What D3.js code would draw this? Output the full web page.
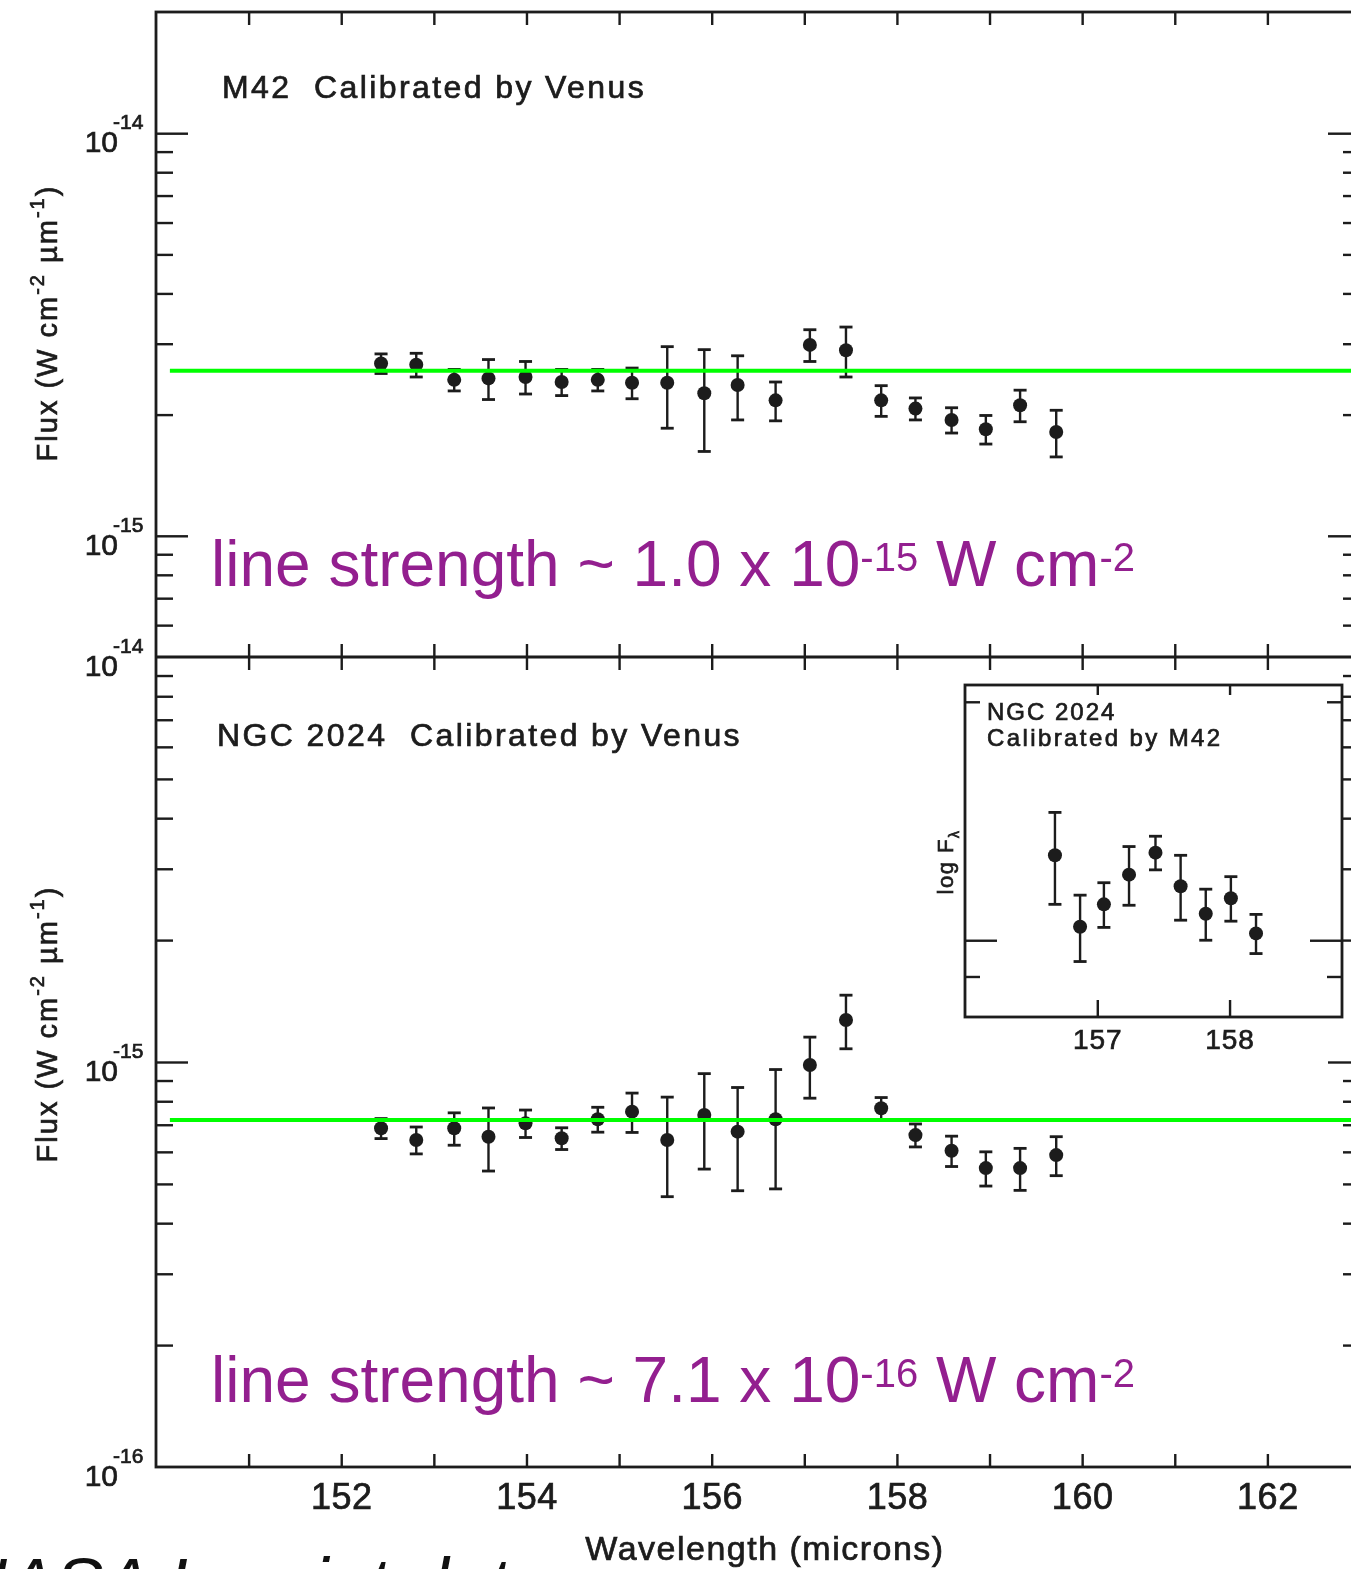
<!DOCTYPE html>
<html>
<head>
<meta charset="utf-8">
<script src="https://cdn.jsdelivr.net/npm/d3@7"></script>
<style>
  body { margin: 0; background: #fff; }
  svg { display: block; }
</style>
</head>
<body>
<script>
// ---- Data -------------------------------------------------------------
// Wavelength grid (microns) of the Venus-calibrated spectra
const wavelengths = [152.43, 152.81, 153.22, 153.59, 153.99, 154.38, 154.77, 155.14, 155.52, 155.92,
                     156.28, 156.69, 157.06, 157.45, 157.83, 158.20, 158.59, 158.96, 159.33, 159.72];

// M42, flux in W cm^-2 um^-1
const m42Flux = [2.68e-15, 2.66e-15, 2.44e-15, 2.46e-15, 2.48e-15, 2.41e-15, 2.44e-15, 2.40e-15, 2.40e-15, 2.26e-15,
                 2.37e-15, 2.17e-15, 2.98e-15, 2.89e-15, 2.17e-15, 2.07e-15, 1.94e-15, 1.84e-15, 2.11e-15, 1.81e-15];
const m42Err  = [0.15e-15, 0.18e-15, 0.15e-15, 0.28e-15, 0.23e-15, 0.18e-15, 0.15e-15, 0.21e-15, 0.55e-15, 0.64e-15,
                 0.43e-15, 0.24e-15, 0.27e-15, 0.41e-15, 0.19e-15, 0.13e-15, 0.14e-15, 0.15e-15, 0.19e-15, 0.24e-15];

// NGC 2024, flux in W cm^-2 um^-1
const ngcFlux = [6.86e-16, 6.42e-16, 6.86e-16, 6.54e-16, 7.06e-16, 6.48e-16, 7.22e-16, 7.54e-16, 6.42e-16, 7.40e-16,
                 6.73e-16, 7.22e-16, 9.83e-16, 12.7e-16, 7.69e-16, 6.60e-16, 6.04e-16, 5.47e-16, 5.47e-16, 5.89e-16];
const ngcErr  = [0.39e-16, 0.49e-16, 0.63e-16, 1.16e-16, 0.55e-16, 0.40e-16, 0.51e-16, 0.84e-16, 1.77e-16, 1.96e-16,
                 1.92e-16, 2.36e-16, 1.69e-16, 1.92e-16, 0.48e-16, 0.43e-16, 0.52e-16, 0.53e-16, 0.65e-16, 0.65e-16];

// Inset: NGC 2024 calibrated by M42
const insetWavelengths = [156.68, 156.87, 157.05, 157.24, 157.44, 157.63, 157.82, 158.01, 158.20];
const insetFlux = [1.28e-15, 1.04e-15, 1.11e-15, 1.21e-15, 1.29e-15, 1.17e-15, 1.08e-15, 1.13e-15, 1.02e-15];
const insetErr  = [0.17e-15, 0.10e-15, 0.072e-15, 0.103e-15, 0.063e-15, 0.11e-15, 0.08e-15, 0.073e-15, 0.058e-15];

// Continuum levels and the wavelength span they are drawn over
const m42Continuum = 2.57e-15;
const ngcContinuum = 7.19e-16;
const continuumSpan = [150.15, 163];

// Axis domains and ticks
const xDomain = [150, 163];
const xTicks = d3.range(151, 163);
const xLabelTicks = [152, 154, 156, 158, 160, 162];
const topDomain = [5e-16, 2e-14];
const botDomain = [1e-16, 1e-14];
const topTicks = [6e-16, 7e-16, 8e-16, 9e-16, 1e-15, 2e-15, 3e-15, 4e-15, 5e-15, 6e-15, 7e-15, 8e-15, 9e-15, 1e-14];
const topLabels = [1e-15, 1e-14];
const botTicks = [2e-16, 3e-16, 4e-16, 5e-16, 6e-16, 7e-16, 8e-16, 9e-16, 1e-15,
                  2e-15, 3e-15, 4e-15, 5e-15, 6e-15, 7e-15, 8e-15, 9e-15];
const botLabels = [1e-16, 1e-15, 1e-14];
const insetXDomain = [156, 158.85];
const insetXTicks = [157, 158];
const insetYDomain = [8e-16, 2.1e-15];
const insetYTicks = [9e-16, 1e-15, 2e-15];

// ---- Setup -------------------------------------------------------------
const W = 1351, H = 1569;
const ink = "#1b1b1b";
const scanFont = "'Liberation Sans', Arial, sans-serif";
const svg = d3.select("body").append("svg").attr("width", W).attr("height", H);
svg.append("rect").attr("width", W).attr("height", H).attr("fill", "#fff");
svg.append("defs").append("filter").attr("id", "soft")
  .append("feGaussianBlur").attr("stdDeviation", 0.7);

const fig = svg.append("g").attr("filter", "url(#soft)");

const x = d3.scaleLinear().domain(xDomain).range([156, 1360]);
const yTop = d3.scaleLog().domain(topDomain).range([657, 12]);
const yBot = d3.scaleLog().domain(botDomain).range([1467, 657]);
const xi = d3.scaleLinear().domain(insetXDomain).range([965, 1342]);
const yi = d3.scaleLog().domain(insetYDomain).range([1017, 685]);

const isDecade = d => Math.abs(Math.log10(d) - Math.round(Math.log10(d))) < 1e-6;

// scanned-type text: slightly heavy strokes
function scanText(sel, size, spacing) {
  return sel.attr("font-family", scanFont).attr("font-size", size)
    .attr("letter-spacing", spacing || 0)
    .attr("fill", ink).attr("stroke", ink).attr("stroke-width", 0.7);
}

// ---- Frames ------------------------------------------------------------
fig.append("rect")
  .attr("x", x.range()[0]).attr("y", yTop.range()[1])
  .attr("width", x.range()[1] - x.range()[0]).attr("height", yBot.range()[0] - yTop.range()[1])
  .attr("fill", "none").attr("stroke", ink).attr("stroke-width", 2.8);
fig.append("line")
  .attr("x1", x.range()[0]).attr("x2", x.range()[1])
  .attr("y1", yTop.range()[0]).attr("y2", yTop.range()[0])
  .attr("stroke", ink).attr("stroke-width", 2.8);

// ---- X axes --------------------------------------------------------------
function placeAxis(parent, gen, tx, ty) {
  const g = parent.append("g").attr("transform", `translate(${tx},${ty})`).call(gen);
  g.select(".domain").remove();
  g.selectAll(".tick line").attr("stroke", ink).attr("stroke-width", 2.4);
  return g;
}
placeAxis(fig, d3.axisTop(x).tickValues(xTicks).tickSize(-13).tickFormat(""), 0, yTop.range()[1]);
placeAxis(fig, d3.axisBottom(x).tickValues(xTicks).tickSize(-13).tickFormat(""), 0, yTop.range()[0]);
placeAxis(fig, d3.axisTop(x).tickValues(xTicks).tickSize(-13).tickFormat(""), 0, yBot.range()[1]);
const bottomAxis = placeAxis(fig,
  d3.axisBottom(x).tickValues(xTicks).tickSize(-13).tickPadding(16)
    .tickFormat(d => xLabelTicks.includes(d) ? d : ""), 0, yBot.range()[0]);
scanText(bottomAxis.selectAll("text"), 36, 0.5);

scanText(fig.append("text")
  .attr("x", 765).attr("y", 1560).attr("text-anchor", "middle"), 34, 1.5)
  .text("Wavelength (microns)");

// ---- Y axes --------------------------------------------------------------
function yTicks(scale, ticks, side) {
  const left = side === "left";
  const gen = (left ? d3.axisLeft(scale) : d3.axisRight(scale)).tickValues(ticks).tickFormat("").tickSize(0);
  const g = placeAxis(fig, gen, left ? x.range()[0] : x.range()[1], 0);
  g.selectAll(".tick line").attr("x2", d => (left ? 1 : -1) * (isDecade(d) ? 32 : 17));
}
yTicks(yTop, topTicks, "left");
yTicks(yTop, topTicks, "right");
yTicks(yBot, botTicks, "left");
yTicks(yBot, botTicks, "right");

function decadeLabels(scale, values) {
  values.forEach(v => {
    const e = Math.round(Math.log10(v));
    const y0 = scale(v);
    scanText(fig.append("text").attr("x", 118).attr("y", y0 + 19).attr("text-anchor", "end"), 30)
      .text("10");
    scanText(fig.append("text").attr("x", 113).attr("y", y0 - 4), 21)
      .text("-" + Math.abs(e));
  });
}
decadeLabels(yTop, topLabels);
decadeLabels(yBot, botLabels);

function fluxLabel(cy) {
  const t = scanText(fig.append("text")
    .attr("transform", `translate(57,${cy}) rotate(-90)`)
    .attr("text-anchor", "middle"), 29, 2);
  t.append("tspan").text("Flux (W cm");
  t.append("tspan").attr("dy", -13).attr("font-size", 20).text("-2");
  t.append("tspan").attr("dy", 13).text(" \u00b5m");
  t.append("tspan").attr("dy", -13).attr("font-size", 20).text("-1");
  t.append("tspan").attr("dy", 13).text(")");
}
fluxLabel(323);
fluxLabel(1024);

// ---- Panel titles --------------------------------------------------------
scanText(fig.append("text").attr("x", 222).attr("y", 98), 32, 2.4)
  .attr("xml:space", "preserve").text("M42  Calibrated by Venus");
scanText(fig.append("text").attr("x", 217).attr("y", 746), 32, 2.4)
  .attr("xml:space", "preserve").text("NGC 2024  Calibrated by Venus");

// ---- Data marks ------------------------------------------------------------
function errorPoints(parent, xs, vals, errs, sx, sy, r, cap) {
  const g = parent.append("g");
  const rows = vals.map((v, i) => ({ w: xs[i], v, e: errs[i] }));
  g.selectAll("line.bar").data(rows).join("line").attr("class", "bar")
    .attr("x1", d => sx(d.w)).attr("x2", d => sx(d.w))
    .attr("y1", d => sy(d.v + d.e)).attr("y2", d => sy(d.v - d.e))
    .attr("stroke", ink).attr("stroke-width", 2.4);
  ["hi", "lo"].forEach(k => {
    g.selectAll("line.cap" + k).data(rows).join("line").attr("class", "cap" + k)
      .attr("x1", d => sx(d.w) - cap).attr("x2", d => sx(d.w) + cap)
      .attr("y1", d => sy(k === "hi" ? d.v + d.e : d.v - d.e))
      .attr("y2", d => sy(k === "hi" ? d.v + d.e : d.v - d.e))
      .attr("stroke", ink).attr("stroke-width", 2.8);
  });
  g.selectAll("circle").data(rows).join("circle")
    .attr("cx", d => sx(d.w)).attr("cy", d => sy(d.v)).attr("r", r).attr("fill", ink);
}
errorPoints(fig, wavelengths, m42Flux, m42Err, x, yTop, 7, 6.5);
errorPoints(fig, wavelengths, ngcFlux, ngcErr, x, yBot, 7, 6.5);

// ---- Inset ----------------------------------------------------------------
const inset = fig.append("g");
inset.append("rect")
  .attr("x", xi.range()[0]).attr("y", yi.range()[1])
  .attr("width", xi.range()[1] - xi.range()[0]).attr("height", yi.range()[0] - yi.range()[1])
  .attr("fill", "#fff").attr("stroke", ink).attr("stroke-width", 2.8);
placeAxis(inset, d3.axisTop(xi).tickValues(insetXTicks).tickSize(-10).tickFormat(""), 0, yi.range()[1]);
const insetBottom = placeAxis(inset,
  d3.axisBottom(xi).tickValues(insetXTicks).tickSize(-17).tickPadding(12).tickFormat(d3.format("d")), 0, yi.range()[0]);
scanText(insetBottom.selectAll("text"), 28, 1);
[["left", xi.range()[0], 1], ["right", xi.range()[1], -1]].forEach(([side, px, dir]) => {
  const gen = (side === "left" ? d3.axisLeft(yi) : d3.axisRight(yi)).tickValues(insetYTicks).tickFormat("").tickSize(0);
  const g = placeAxis(inset, gen, px, 0);
  g.selectAll(".tick line").attr("x2", d => dir * (isDecade(d) ? 32 : 15));
});
scanText(inset.append("text").attr("x", 987).attr("y", 720), 24, 2).text("NGC 2024");
scanText(inset.append("text").attr("x", 987).attr("y", 746), 24, 2.4).text("Calibrated by M42");
const logLabel = scanText(fig.append("text")
  .attr("transform", "translate(953,862) rotate(-90)").attr("text-anchor", "middle"), 22, 1.5);
logLabel.append("tspan").text("log F");
logLabel.append("tspan").attr("dy", 6).attr("font-size", 14).text("\u03bb");
errorPoints(inset, insetWavelengths, insetFlux, insetErr, xi, yi, 7, 6.5);

// ---- Overlays: continuum levels and line strengths --------------------------
const overlay = svg.append("g");
[[m42Continuum, yTop], [ngcContinuum, yBot]].forEach(([c, sy]) => {
  overlay.append("line")
    .attr("x1", x(continuumSpan[0])).attr("x2", x(continuumSpan[1]))
    .attr("y1", sy(c)).attr("y2", sy(c))
    .attr("stroke", "#00ff00").attr("stroke-width", 4);
});

function strengthLabel(y, mantissa, exponent) {
  const t = overlay.append("text").attr("x", 211).attr("y", y)
    .attr("font-family", "'Liberation Sans', Arial, Helvetica, sans-serif")
    .attr("font-size", 64).attr("fill", "#931f8f");
  t.append("tspan").text(`line strength ~ ${mantissa} x 10`);
  t.append("tspan").attr("dy", -15).attr("font-size", 40).text(exponent);
  t.append("tspan").attr("dy", 15).text(" W cm");
  t.append("tspan").attr("dy", -15).attr("font-size", 40).text("-2");
}
strengthLabel(586, "1.0", "-15");
strengthLabel(1402, "7.1", "-16");

// caption running off the bottom edge
overlay.append("text").attr("x", -45).attr("y", 1609)
  .attr("font-family", "'Liberation Sans', Arial, sans-serif").attr("font-style", "italic")
  .attr("font-size", 72).attr("fill", "#111")
  .text("NASA Learjet data");
</script>
</body>
</html>
